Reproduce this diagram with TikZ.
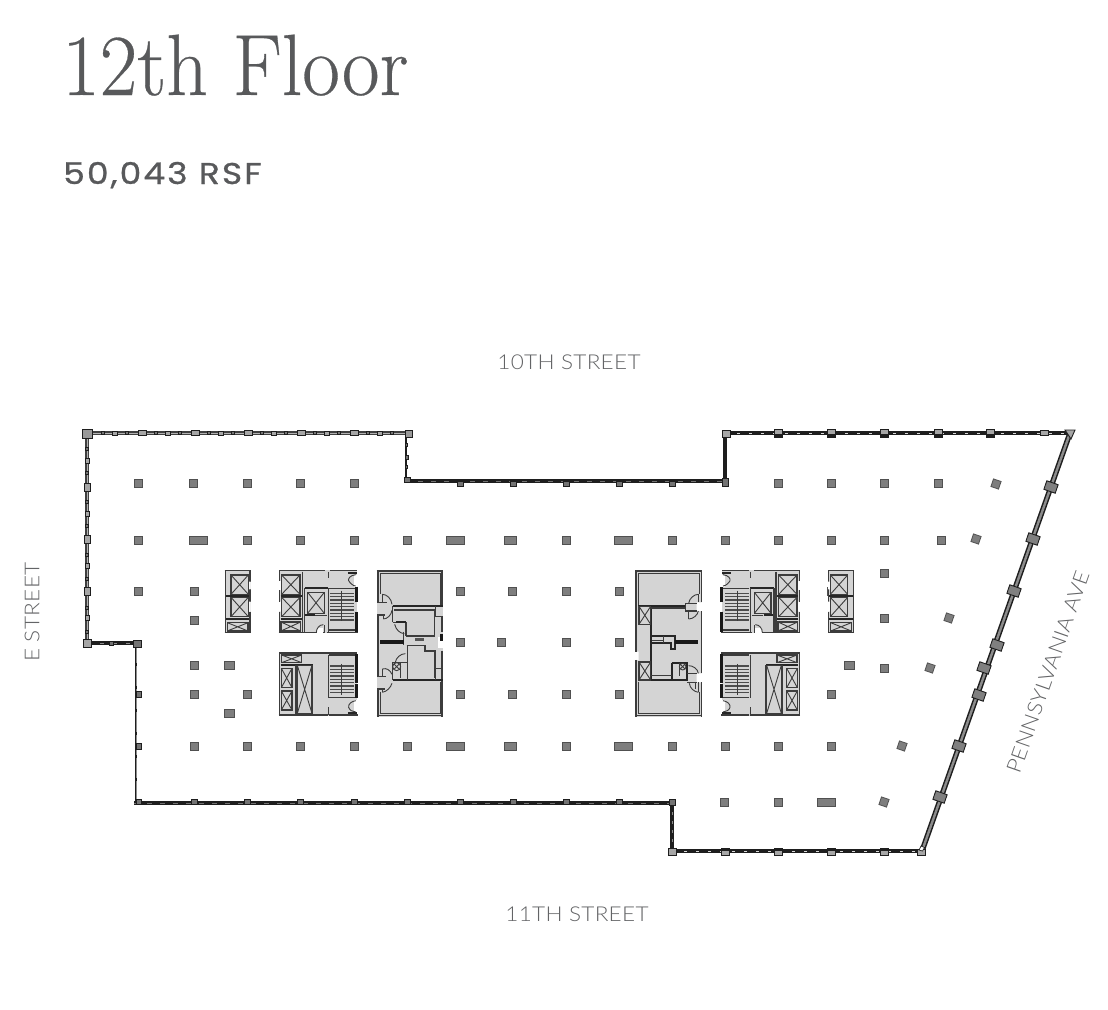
\documentclass[tikz,border=0pt]{standalone}
\usepackage{fontspec}
\newfontfamily\titlefont[FakeBold=0.35,FakeStretch=0.94]{lmroman17-regular.otf}
\newfontfamily\subfont[LetterSpace=7,FakeBold=0.9,FakeStretch=1.15]{Poppins}
\newfontfamily\labfont[UprightFont={* Light},LetterSpace=1.5,FakeStretch=1.1]{Lato}
\definecolor{ink}{HTML}{58595B}
\definecolor{lab}{HTML}{636466}
\definecolor{wallk}{HTML}{1E1E1E}
\definecolor{coreg}{HTML}{D4D4D4}
\definecolor{coreline}{HTML}{3C3C3C}
\definecolor{colfill}{HTML}{7E7E7E}
\tikzset{
  column/.style={fill=colfill,draw=coreline!90,line width=.8pt},
  mull/.style={fill=black!35,draw=wallk,line width=.9pt},
  mulldark/.style={fill=black!55,draw=wallk,line width=.9pt},
  wallA/.style={draw=black!75,line width=4.6pt},
  wallAi/.style={draw=black!30,line width=1pt},
  wallB/.style={draw=wallk,line width=3.8pt},
  wallBi/.style={draw=black!45,line width=1pt,dash pattern=on 4pt off 9pt},
  wallC/.style={draw=wallk,line width=3.4pt},
  wallCi/.style={draw=white!85!black,line width=.9pt,dash pattern=on 3pt off 9pt},
  wallD/.style={draw=wallk,line width=5.4pt},
  wallDi/.style={draw=black!45,line width=2.4pt},
  corefill/.style={fill=coreg,draw=none},
  thn/.style={draw=coreline,line width=.9pt},
  med/.style={draw=coreline,line width=1.5pt},
  thk/.style={draw=black!85,line width=2.2pt},
  hvy/.style={draw=black!90,line width=3pt},
  car/.style={fill=coreg,draw=coreline,line width=1.2pt},
  tread/.style={draw=black!70,line width=1.5pt},
  titletext/.style={text=ink,inner sep=0pt,anchor=base west},
  streettext/.style={text=lab,inner sep=0pt,font=\labfont\fontsize{20.5}{24}\selectfont},
}
\newcommand{\colsq}[2]{\draw[column] (#1-4,#2-4) rectangle (#1+4,#2+4);}
\newcommand{\colwd}[3]{\draw[column] (#1-#3,#2-4) rectangle (#1+#3,#2+4);}
\newcommand{\colrot}[2]{\draw[column,shift={(#1,#2)},rotate=-19] (-4,-4) rectangle (4,4);}
\newcommand{\xbox}[4]{\draw[car] (#1,#2) rectangle (#3,#4); \draw[thn] (#1,#2) -- (#3,#4) (#1,#4) -- (#3,#2);}
\newcommand{\treads}[3]{\foreach \ty in {#1,#2,...,#3}{\draw[tread] (360,\ty) -- (432,\ty);}}
\newcommand{\elevA}{%
  \fill[corefill] (44,30) rectangle (122,220);
  \draw[med] (44,32) -- (122,32) (46,30) -- (46,220) (44,218) -- (122,218) (120,30) -- (120,65) (120,88) -- (120,125) (120,155) -- (120,220);
  \fill[white] (113,65) rectangle (122,88) (113,125) rectangle (122,155);
  \xbox{63}{45}{115}{103}\xbox{63}{112}{115}{170}
  \draw[thk] (48,107) -- (118,107) (48,178) -- (118,178);
  \xbox{52}{188}{114}{213}
}
\newcommand{\coreUp}{%
  \fill[corefill] (208,30) rectangle (440,220);
  \fill[white] (205,63) rectangle (214,90) (205,125) rectangle (214,155);
  \draw[med] (208,32) -- (345,32) (360,32) -- (440,32) (208,30) -- (208,63) (208,90) -- (208,125) (208,155) -- (208,220) (206,218) -- (345,218) (350,218) -- (444,218);
  \xbox{215}{45}{270}{103}\xbox{215}{112}{270}{170}
  \draw[thk] (212,107) -- (275,107) (212,176) -- (275,176);
  \xbox{213}{186}{272}{213}
  \draw[med] (278,35) -- (278,216);
  \draw[thk] (284,85) -- (355,85);
  \draw[med] (284,85) -- (284,216) (355,35) -- (355,55) (355,85) -- (355,220);
  \xbox{293}{97}{343}{160}
  \draw[thk] (286,166) -- (315,166);
  \draw[med] (316,166) -- (350,166) (343,195) -- (343,216);
  \fill[white] (320,205) rectangle (340,222);
  \draw[thn] (340,194) .. controls (328,194) and (319,205) .. (319,218);
  \draw[med] (358,85) -- (438,85) (358,210) -- (438,210);
  \treads{100}{110}{182}
  \draw[med] (394,92) -- (394,182);
  \draw[hvy] (441,80) -- (441,125) (441,155) -- (441,215);
  \fill[white] (432,45) rectangle (442,80);
  \draw[thk] (414,40) -- (440,40);
  \draw[thn] (437,44) .. controls (420,46) and (414,56) .. (416,62) .. controls (420,70) and (430,78) .. (437,78);
}
\newcommand{\coreLow}{%
  \fill[corefill] (208,277) rectangle (440,467);
  \draw[med] (208,279) -- (442,279) (208,277) -- (208,467) (206,465) -- (355,465) (358,465) -- (444,465);
  \xbox{215}{285}{275}{308}
  \draw[thk] (212,314) -- (308,314);
  \draw[med] (258,314) -- (258,462) (308,314) -- (308,462);
  \xbox{262}{316}{306}{460}
  \xbox{214}{325}{246}{383}\xbox{214}{393}{246}{450}
  \draw[med] (355,285) -- (355,415) (355,442) -- (355,465);
  \draw[med] (358,285) -- (438,285) (358,412) -- (438,412);
  \treads{318}{328}{405}
  \draw[med] (394,312) -- (394,405);
  \draw[hvy] (441,283) -- (441,368) (441,372) -- (441,415);
  \fill[white] (432,420) rectangle (442,460);
  \draw[thk] (414,460) -- (440,460);
  \draw[thn] (437,422) .. controls (425,424) and (414,432) .. (416,442) .. controls (418,450) and (428,456) .. (437,456);
}
\begin{document}
\begin{tikzpicture}[x=1pt,y=-1pt]
\useasboundingbox (0,0) rectangle (1108,1009);
% texts
\node[titletext] (title) at (62,95) {\titlefont\fontsize{87}{95}\selectfont 12th Floor};
\node[titletext] (rsf) at (63,184) {\subfont\fontsize{30}{34}\selectfont 50,043 RSF};
\node[streettext] (north) at (569,362) {10TH STREET};
\node[streettext] (south) at (577,914) {11TH STREET};
\node[streettext,rotate=90] (west) at (32,612) {E STREET};
\node[streettext,rotate=70.7] (east) at (1048,672) {PENNSYLVANIA AVE};
% perimeter walls
\draw[wallA] (87,433) -- (407,433);
\draw[wallAi] (87,433) -- (407,433);
\draw[wallA] (87,433) -- (87,643);
\draw[wallAi] (87,433) -- (87,643);
\draw[draw=wallk,line width=1.6pt] (406,433) -- (406,481);
\draw[wallB] (87,643) -- (136,643);
\draw[wallBi] (87,643) -- (136,643);
\draw[wallB] (405,481) -- (725,481);
\draw[wallB] (725,433) -- (725,481);
\draw[draw=wallk,line width=2.8pt] (136,643) -- (136,803);
\draw[draw=black!45,line width=.8pt,dash pattern=on 20pt off 3pt] (136,643) -- (136,803);
\draw[wallB] (134,803) -- (672,803);
\draw[draw=black!55,line width=1pt,dash pattern=on 5pt off 8pt] (134,803) -- (672,803);
\draw[draw=black!55,line width=1pt,dash pattern=on 5pt off 8pt] (405,481) -- (725,481);
\draw[draw=wallk,line width=3.2pt] (672,803) -- (672,851);
\draw[draw=black!45,line width=.8pt,dash pattern=on 3pt off 6pt] (672,803) -- (672,851);
\draw[wallC] (725,433) -- (1070,433);
\draw[wallCi] (725,433) -- (1070,433);
\draw[wallC] (672,851) -- (920,851);
\draw[wallCi] (672,851) -- (920,851);
\draw[wallD] (1070,433) -- (922,851);
\draw[wallDi] (1070,433) -- (922,851);
% mullions, top-left and left
\foreach \x in {103,127,156,180,209,233,262,286,315,339,368,392}{\draw[mulldark] (\x-1.5,431.5) rectangle (\x+1.5,434.5);}
\foreach \x in {115,168,221,274,327,380}{\draw[mull] (\x-2.5,431) rectangle (\x+2.5,435);}
\foreach \x in {142,195,248,301,354}{\draw[mull] (\x-4,430.5) rectangle (\x+4,435.5);}
\foreach \y in {449,473,502,526,555,579,608,632}{\draw[mulldark] (85.5,\y-1.5) rectangle (88.5,\y+1.5);}
\foreach \y in {461,514,566,618}{\draw[mull] (85,\y-2.5) rectangle (89,\y+2.5);}
\foreach \y in {487,539,591}{\draw[mull] (84,\y-4) rectangle (90,\y+4);}
\draw[mull,fill=black!40] (82.5,429) rectangle (92,438);
\draw[mull,fill=black!40] (405,430) rectangle (412,437);
\foreach \y in {445,467}{\draw[mulldark] (405.5,\y-1.5) rectangle (407.5,\y+1.5);}
\draw[mulldark] (405,455) rectangle (408,459);
\draw[mull] (83,639) rectangle (91,647);
\draw[mulldark] (109,641) rectangle (113,645);
\draw[mulldark] (133,640) rectangle (141,647);
% lower-left, bottom wall tabs
\foreach \y in {694,746}{\draw[mulldark] (136,\y-3) rectangle (141,\y+3);}
\draw[mulldark] (136,799) rectangle (141,804);
\foreach \x in {194,247,300,354,407,460,513,566,619}{\draw[mulldark] (\x-3,799) rectangle (\x+3,804);}
\draw[mulldark] (669,799) rectangle (675,805);
\foreach \x in {460,513,566,619,672}{\draw[mulldark] (\x-3,481) rectangle (\x+3,486);}
\draw[mulldark] (404.5,477) rectangle (410,482);
\draw[mulldark] (722,478) rectangle (728,486);
\draw[mull] (722,430) rectangle (730,437);
% right walls
\foreach \x in {778,831,884,938,990}{\draw[mull] (\x-4,429) rectangle (\x+4,437);\fill[wallk] (\x-4,434) rectangle (\x+4,437);}
\draw[mull] (1040,430) rectangle (1048,435);
\draw[mull] (1065,430) -- (1075,430) -- (1071,439) -- cycle;
\foreach \x in {725,778,831,884}{\draw[mull] (\x-4,848) rectangle (\x+4,855);\fill[wallk] (\x-4,848) rectangle (\x+4,851);}
\draw[mull] (668,848) rectangle (676,855);
\draw[mull] (917,849) rectangle (925,855);
\draw[fill=white,draw=wallk,line width=.7pt] (919,850) -- (921,846) -- (924.5,847.5) -- (922.5,851) -- cycle;
\foreach \x/\y in {1051/487,1033/539,1014/591,997/645,984/668,979/695,959/746,940/797}{\draw[fill=black!50,draw=wallk,line width=.9pt,shift={(\x,\y)},rotate=-19] (-6,-4.5) rectangle (6,4.5);}
% columns
\foreach \x in {138,193,247,300,354,778,831,884,938}{\colsq{\x}{483}}
\colrot{996}{484}
\foreach \x in {138,247,300,354,407,566,672,725,778,831,884,941}{\colsq{\x}{540}}
\colwd{198}{540}{9}\colwd{455}{540}{9}\colwd{510}{540}{6}\colwd{623}{540}{9}
\colrot{976}{539}
\foreach \x in {138,194,460,512,566,619,831}{\colsq{\x}{591}}
\colsq{884}{573}\colsq{884}{618}\colsq{194}{620}\colrot{949}{618}
\foreach \x in {460,501,566,619}{\colsq{\x}{642}}
\colsq{194}{665}\colwd{229.5}{665}{5}\colwd{849}{665}{5}\colsq{884}{668}\colrot{930}{668}
\foreach \x in {194,247,460,512,566,619,831}{\colsq{\x}{694}}
\colwd{229.5}{713}{5}
\foreach \x in {194,247,300,354,407,566,672,725,778,831}{\colsq{\x}{746}}
\colwd{455}{746}{9}\colwd{510}{746}{6}\colwd{623}{746}{9}
\colrot{902}{746}
\colsq{724}{802}\colsq{778}{802}\colwd{826}{802}{9}\colrot{884}{802}
% left service cores
\begin{scope}[shift={(210,560)},x=.3333pt,y=-.3333pt]
\elevA\coreUp\coreLow
\end{scope}
% right service cores, mirrored
\begin{scope}[shift={(868.67,560)},x=-.3333pt,y=-.3333pt]
\elevA\coreUp\coreLow
\end{scope}
% central core, left
\begin{scope}[shift={(370,565)},x=.3333pt,y=-.3333pt]
\fill[corefill] (22,15) rectangle (218,455);
\fill[white] (205,215) rectangle (220,250);
\draw[med] (20,18) -- (218,18) (20,452) -- (218,452);
\draw[med] (24,15) -- (24,112) (24,150) -- (24,335) (24,375) -- (24,455) (216,15) -- (216,125) (216,155) -- (216,200) (216,258) -- (216,455);
\draw[thn] (31,24) -- (210,24) -- (210,120) (31,24) -- (31,88) (31,380) -- (31,445) -- (210,445) -- (210,350);
\draw[hvy] (214,208) -- (214,228);
% door, upper
\draw[med] (22,113) -- (50,113) (37,88) -- (37,113) (22,150) -- (45,150) (40,150) -- (40,162);
\draw[thn] (37,88) .. controls (50,88) and (64,100) .. (66,118) (40,162) .. controls (52,162) and (64,150) .. (66,136);
% door, lower
\draw[med] (22,335) -- (48,335) (37,312) -- (37,335) (22,372) -- (45,372) (37,372) -- (37,382);
\draw[thn] (37,312) .. controls (50,308) and (60,315) .. (66,328) (37,382) .. controls (50,380) and (62,368) .. (66,355);
% rooms
\draw[thk] (68,124) -- (218,124) (68,346) -- (218,346);
\draw[med] (68,124) -- (68,172) (72,135) -- (193,135) -- (193,213) -- (108,213) (108,172) -- (108,213) (68,172) -- (108,172);
\draw[thk] (78,172) -- (108,172);
\draw[thn] (74,178) .. controls (78,195) and (90,205) .. (103,206);
\draw[med] (101,200) -- (101,240) (110,241) -- (165,241) -- (165,258) -- (195,258) -- (195,340) (112,241) -- (112,345);
\draw[hvy,line width=4pt] (30,232) -- (101,232);
\fill[coreg!40!black] (135,219) rectangle (162,227);
\draw[thn] (76,292) .. controls (78,278) and (92,266) .. (106,266);
\draw[med] (68,292) -- (110,292) (68,292) -- (68,346) (92,292) -- (92,340);
\draw[thn] (80,305) circle[radius=12];
\draw[thn] (72,297) -- (88,313) (72,313) -- (88,297);
\draw[med] (197,124) -- (197,155) -- (218,155) (197,310) -- (218,310) (197,310) -- (197,346);
\end{scope}
% central core, right
\begin{scope}[shift={(630,565)},x=.3333pt,y=-.3333pt]
\fill[corefill] (18,15) rectangle (215,455);
\fill[white] (10,260) rectangle (26,285) (200,112) rectangle (218,138) (200,325) rectangle (218,352);
\draw[med] (15,18) -- (215,18) (15,452) -- (215,452);
\draw[med] (18,15) -- (18,260) (18,285) -- (18,455) (214,15) -- (214,112) (214,138) -- (214,325) (214,352) -- (214,455);
\draw[thn] (25,24) -- (207,24) -- (207,88) (25,24) -- (25,122) (25,350) -- (25,445) -- (207,445) -- (207,382);
\draw[thk] (25,122) -- (166,122) (25,346) -- (175,346) (63,122) -- (63,346);
\draw[med] (63,129) -- (166,129);
\xbox{27}{124}{62}{178}\xbox{27}{291}{62}{345}
% door upper
\draw[med] (166,115) -- (200,115) (166,115) -- (166,138) (166,138) -- (200,138) (176,138) -- (176,162) (205,88) -- (205,112);
\draw[thn] (205,88) .. controls (192,88) and (178,100) .. (176,115) (176,162) .. controls (190,162) and (203,150) .. (205,138);
% rooms
\draw[thk] (63,213) -- (135,213) -- (135,252) -- (122,252) -- (122,235) -- (63,235);
\draw[thn] (65,225) -- (100,225) (100,213) -- (100,235);
\draw[hvy,line width=4pt] (135,232) -- (205,232);
\draw[thk] (125,295) -- (172,295) -- (172,346) (125,295) -- (125,346);
\draw[med] (148,295) -- (148,332) (63,332) -- (125,332);
\draw[thn] (158,305) circle[radius=10];
\draw[thn] (151,298) -- (165,312) (151,312) -- (165,298);
% door lower
\draw[med] (172,325) -- (200,325) (172,352) -- (200,352) (196,352) -- (196,372) (205,352) -- (205,382);
\draw[thn] (176,302) .. controls (190,302) and (203,312) .. (205,325) (205,382) .. controls (192,380) and (180,370) .. (178,355);
\end{scope}
\end{tikzpicture}
\end{document}
